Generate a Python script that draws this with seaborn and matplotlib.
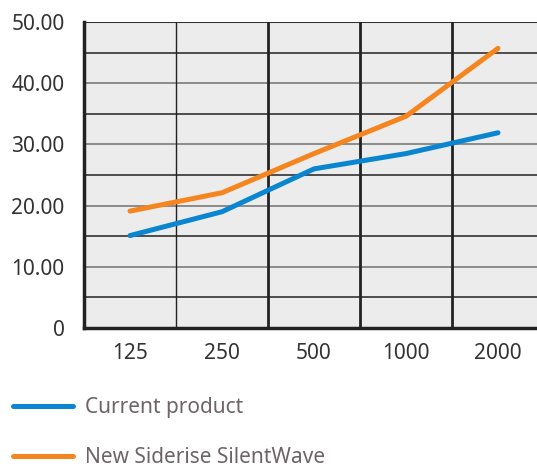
import pandas as pd
import matplotlib
matplotlib.use('Agg')
import matplotlib.pyplot as plt
import seaborn as sns

# Chart data
frequencies = ['125', '250', '500', '1000', '2000']
current_product = [15.1, 19.0, 26.0, 28.5, 31.9]
silentwave = [19.1, 22.1, 28.5, 34.6, 45.7]
series_names = ['Current product', 'New Siderise SilentWave']
y_ticks = [0, 10, 20, 30, 40, 50]
y_tick_labels = ['0', '10.00', '20.00', '30.00', '40.00', '50.00']

df = pd.DataFrame({
    'freq': frequencies * 2,
    'value': current_product + silentwave,
    'series': [series_names[0]] * 5 + [series_names[1]] * 5,
})

sns.set_style('white')
plt.rcParams['font.family'] = ['Noto Sans', 'DejaVu Sans']

W, H = 537, 468
fig = plt.figure(figsize=(W / 100, H / 100), dpi=100)
ax = fig.add_axes([84 / W, (H - 328) / H, (544 - 84) / W, (328 - 22) / H])
ax.set_facecolor('#ececec')

palette = {series_names[0]: '#0a85d0', series_names[1]: '#f5861f'}
sns.lineplot(data=df, x='freq', y='value', hue='series', palette=palette,
             linewidth=3.6, ax=ax, sort=False, legend=True, zorder=5)

ax.set_xlim(-0.5, 4.5)
ax.set_ylim(0, 50)

# horizontal grid: 10s lighter, 5s darker
for v in range(5, 50, 5):
    col = '#7a7a7a' if v % 10 == 0 else '#333333'
    ax.axhline(v, color=col, linewidth=1.2, zorder=1)
ax.axhline(50, color='#333333', linewidth=1.5, zorder=1)

# vertical dividers
ax.axvline(0.5, color='#222222', linewidth=1.0, zorder=1)
for xv in [1.5, 2.5, 3.5]:
    ax.axvline(xv, color='#222222', linewidth=2.0, zorder=1)

for side in ['top', 'right']:
    ax.spines[side].set_visible(False)
ax.spines['left'].set_linewidth(2.5)
ax.spines['left'].set_color('#222222')
ax.spines['bottom'].set_linewidth(2.5)
ax.spines['bottom'].set_color('#222222')

ax.set_yticks(y_ticks)
ax.set_yticklabels(y_tick_labels)
ax.tick_params(axis='y', length=0, pad=14, labelsize=15, labelcolor='#333333')
ax.tick_params(axis='x', length=0, pad=11, labelsize=15, labelcolor='#333333')
ax.set_xlabel('')
ax.set_ylabel('')

handles, labels = ax.get_legend_handles_labels()
ax.legend_.remove()
fig.legend(handles, labels, loc='upper left', bbox_to_anchor=(13 / W, 1 - 397 / H),
           frameon=False, handlelength=2.9, handletextpad=0.55,
           labelspacing=1.4, fontsize=15, labelcolor='#6e6468',
           borderaxespad=0.0, borderpad=0.0)

fig.savefig('out.png', dpi=100)
